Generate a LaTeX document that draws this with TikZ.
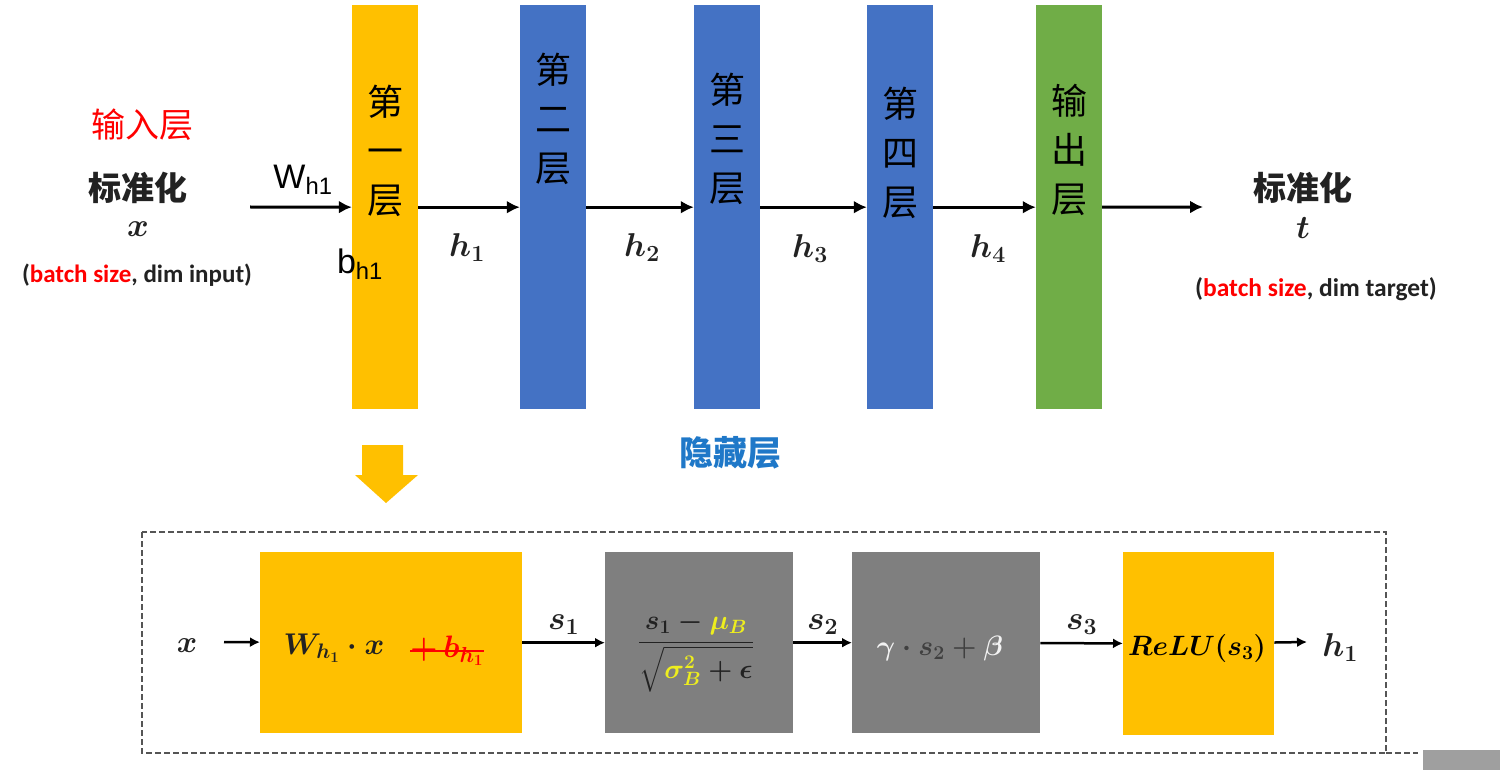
\RequirePackage{fix-cm}
\documentclass[tikz,border=0pt]{standalone}
\usepackage{fontspec}
\usepackage{amsmath}
\setsansfont{Liberation Sans}
\newfontfamily\cjk{Noto Sans CJK SC}
\newfontfamily\calib{Carlito}
\definecolor{LayerYellow}{HTML}{FFC000}
\definecolor{LayerBlue}{HTML}{4472C4}
\definecolor{LayerGreen}{HTML}{70AD47}
\definecolor{BoxGray}{HTML}{7F7F7F}
\definecolor{HidBlue}{HTML}{1F78C8}
\definecolor{FormYellow}{HTML}{EEEE1E}
\definecolor{TextDark}{HTML}{222222}
\definecolor{FrameGray}{HTML}{555555}
\newcommand\fs[2]{\fontsize{#1}{#2}\selectfont}
\usetikzlibrary{arrows.meta,positioning}

\begin{document}
\begin{tikzpicture}[x=1pt,y=-1pt,
  layerbox/.style={minimum width=66pt,minimum height=404pt,inner sep=0pt,anchor=north},
  layertext/.style={align=center,inner sep=0pt,font=\cjk\fs{36}{49}},
  flow/.style={line width=3pt,-{Latex[length=13pt,width=13pt]}},
  stepflow/.style={line width=2.5pt,-{Latex[length=10pt,width=10pt]}},
  stepblock/.style={inner sep=0pt,anchor=north west},
  hlabel/.style={text=TextDark,font=\fs{33}{38}\boldmath},
  steplabel/.style={text=TextDark,font=\fs{33}{38}\boldmath}]
  \fill[white] (0,0) rectangle (1500,770);
  \useasboundingbox (0,0) rectangle (1500,770);

  % network layers
  \node[layerbox,fill=LayerYellow] (l1) at (385,5) {};
  \node[layerbox,fill=LayerBlue] (l2) at (553,5) {};
  \node[layerbox,fill=LayerBlue] (l3) at (727,5) {};
  \node[layerbox,fill=LayerBlue] (l4) at (900,5) {};
  \node[layerbox,fill=LayerGreen] (l5) at (1069,5) {};
  \node[layertext] (t1) at (385,151) {第\\一\\层};
  \node[layertext] (t2) at (553,119) {第\\二\\层};
  \node[layertext] (t3) at (727,139) {第\\三\\层};
  \node[layertext] (t4) at (900,153) {第\\四\\层};
  \node[layertext] (t5) at (1069,150) {输\\出\\层};

  \coordinate (in) at (250,207);
  \coordinate (out) at (1203,207);
  \draw[flow] (in) -- (l1);
  \draw[flow] (l1) -- (l2);
  \draw[flow] (l2) -- (l3);
  \draw[flow] (l3) -- (l4);
  \draw[flow] (l4) -- (l5);
  \draw[flow] (l5) -- (out);
  \node[font=\sffamily\fs{34}{40}] (wh) at (303,180) {W\textsubscript{h1}};
  \node[font=\sffamily\fs{34}{40}] (bh) at (360,264) {b\textsubscript{h1}};
  \node[hlabel] (h1) at (467,248) {$h_1$};
  \node[hlabel] (h2) at (642,248) {$h_2$};
  \node[hlabel] (h3) at (810,249) {$h_3$};
  \node[hlabel] (h4) at (988,249) {$h_4$};

  % input and target
  \node[text=red,font=\cjk\fs{34}{40}] (inlayer) at (142,125) {输入层};
  \node[text=TextDark,font=\cjk\bfseries\fs{33}{39}] (normin) at (138,188) {标准化};
  \node[hlabel] (xin) at (138,229) {$x$};
  \node[text=TextDark,font=\calib\bfseries\fs{25}{30}] (shapein) at (137,275) {(\textcolor{red}{batch size}, dim input)};
  \node[text=TextDark,font=\cjk\bfseries\fs{33}{39}] (normout) at (1303,188) {标准化};
  \node[hlabel] (tout) at (1303,228) {$t$};
  \node[text=TextDark,font=\calib\bfseries\fs{25.5}{30}] (shapeout) at (1316,289) {(\textcolor{red}{batch size}, dim target)};
  \node[text=HidBlue,font=\cjk\bfseries\fs{34}{40}] (hidden) at (730,453) {隐藏层};

  % zoom into the first layer
  \fill[LayerYellow] (362,445) -- (403,445) -- (403,475) -- (418,475) -- (386,503)
    -- (355,475) -- (362,475) -- cycle;
  \draw[FrameGray,line width=2.5pt,dash pattern=on 6pt off 3pt] (142,532) rectangle (1386,753);
  \draw[FrameGray,line width=2pt,dash pattern=on 6pt off 3pt] (1386,753) -- (1418,753);
  \fill[gray!75] (1423,750) rectangle (1500,770);

  \node[stepblock,fill=LayerYellow,minimum width=262pt,minimum height=181pt] (lin) at (260,552) {};
  \node[stepblock,fill=BoxGray,minimum width=188pt,minimum height=181pt] (bn) at (605,552) {};
  \node[stepblock,fill=BoxGray,minimum width=188pt,minimum height=181pt] (aff) at (852,552) {};
  \node[stepblock,fill=LayerYellow,minimum width=151pt,minimum height=183pt] (relu) at (1123,552) {};

  \node[steplabel,font=\fs{31}{36}\boldmath] (xstep) at (187,646) {$x$};
  \node[text=TextDark,font=\fs{30}{36}\boldmath] (linW) at (334,648) {$W_{h_1}\cdot x$};
  \node[text=red,inner sep=0pt,font=\fs{31}{36}\boldmath] (bias) at (447,651) {$+\,b_{h_1}$};
  \draw[red,line width=1.5pt] (bias.west) -- (bias.east);
  \node[text=TextDark,font=\fs{27.5}{32}\boldmath] (bnform) at (696,652)
    {$\dfrac{s_1-\textcolor{FormYellow}{\mu_B}}{\sqrt{\textcolor{FormYellow}{\sigma_B^2}+\epsilon}}$};
  \node[text=black!75,font=\fs{28}{34}\boldmath] (affform) at (940,648)
    {$\textcolor{white!90!gray}{\gamma}\cdot s_2+\textcolor{white!90!gray}{\beta}$};
  \node[text=black,font=\fs{28}{34}\boldmath] (reluform) at (1197,648) {$ReLU(s_3)$};
  \node[steplabel] (hstep) at (1340,648) {$h_1$};

  \coordinate (xarr) at (224,642);
  \coordinate (harr) at (1307,642);
  \draw[stepflow] (xarr) -- (lin);
  \draw[stepflow] (lin) -- node[steplabel,above=4pt] (s1) {$s_1$} (bn);
  \draw[stepflow] (bn) -- node[steplabel,above=4pt] (s2) {$s_2$} (aff);
  \draw[stepflow] (aff) -- node[steplabel,above=4pt] (s3) {$s_3$} (relu);
  \draw[stepflow] (relu) -- (harr);
\end{tikzpicture}
\end{document}
